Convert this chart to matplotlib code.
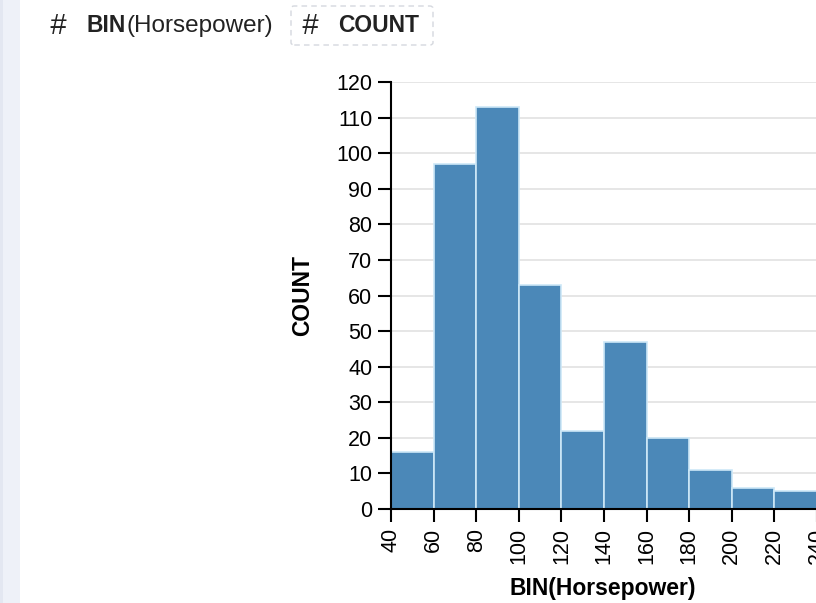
import matplotlib.pyplot as plt
from matplotlib.patches import Rectangle, FancyBboxPatch

# histogram of horsepower, 20 hp bins
bin_start = [40, 60, 80, 100, 120, 140, 160, 180, 200, 220]
bin_width = 20
counts = [16, 97, 113, 63, 22, 47, 20, 11, 6, 5]
x_ticks = [40, 60, 80, 100, 120, 140, 160, 180, 200, 220, 240, 260]
y_ticks = [0, 10, 20, 30, 40, 50, 60, 70, 80, 90, 100, 110, 120]

plt.rcParams['font.family'] = ['Liberation Sans', 'DejaVu Sans']

W, H = 816, 603
fig = plt.figure(figsize=(W / 100, H / 100), dpi=100)
fig.patch.set_facecolor('white')

# left grey strip of the ui
fig.patches.append(Rectangle((0, 0), 3 / W, 1, transform=fig.transFigure,
                             facecolor='#e3e7f1', edgecolor='none'))
fig.patches.append(Rectangle((3 / W, 0), 17 / W, 1, transform=fig.transFigure,
                             facecolor='#eef1f8', edgecolor='none'))

# header pills
yh = 1 - 26 / H
fig.text(49 / W, yh, '#', fontsize=21, style='italic', va='center', color='#222')
fig.text(87 / W, yh, 'BIN', fontsize=16.5, weight='bold', va='center', color='#222')
fig.text(127 / W, yh, '(Horsepower)', fontsize=17.5, va='center', color='#222')
fig.patches.append(FancyBboxPatch((291 / W, 1 - 45 / H), 142 / W, 39 / H,
                                  boxstyle='round,pad=0,rounding_size=0.004',
                                  transform=fig.transFigure, facecolor='white',
                                  edgecolor='#d5d8de', linestyle=(0, (4, 3)), linewidth=1))
fig.text(301 / W, yh, '#', fontsize=21, style='italic', va='center', color='#222')
fig.text(338 / W, yh, 'COUNT', fontsize=16.5, weight='bold', va='center', color='#222')

# axes: x 40 at px 391, 20 hp = 42.6 px; y 0 at px 509, 120 at px 82
left = 391
right = left + 11 * 42.6
bottom = 509
top = 82
ax = fig.add_axes([left / W, 1 - bottom / H, (right - left) / W, (bottom - top) / H])

ax.bar(bin_start, counts, width=bin_width, align='edge',
       color='#4b88b8', edgecolor='#cde8f7', linewidth=1.2, zorder=3)

ax.set_xlim(40, 260)
ax.set_ylim(0, 120)
ax.set_xticks(x_ticks)
ax.set_yticks(y_ticks)
ax.set_xticklabels([str(v) for v in x_ticks], rotation=90)
ax.grid(axis='y', color='#e4e4e4', linewidth=1.3, zorder=0)
ax.set_axisbelow(True)

for s in ['top', 'right']:
    ax.spines[s].set_visible(False)
for s in ['left', 'bottom']:
    ax.spines[s].set_color('black')
    ax.spines[s].set_linewidth(1.5)
    ax.spines[s].set_zorder(4)

ax.tick_params(axis='both', length=9.5, width=1.5, labelsize=15.5, colors='black', pad=4)

ax.set_ylabel('COUNT', fontsize=16.5, weight='bold')
ax.set_xlabel('BIN(Horsepower)', fontsize=16.5, weight='bold')
ax.xaxis.set_label_coords((603 - left) / (right - left), -(577 - bottom) / (bottom - top))
ax.yaxis.set_label_coords(-(391 - 314) / (right - left), (509 - 295) / (bottom - top))

fig.savefig('out.png', dpi=100)
